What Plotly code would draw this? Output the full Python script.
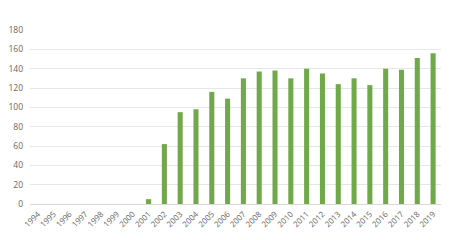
import plotly.graph_objects as go

years = [str(y) for y in range(1994, 2020)]
values = [0, 0, 0, 0, 0, 0, 0, 5, 62, 95, 98, 116, 109, 130, 137, 138, 130,
          140, 135, 124, 130, 123, 140, 139, 151, 156]
y_ticks = [0, 20, 40, 60, 80, 100, 120, 140, 160, 180]

fig = go.Figure(go.Bar(
    x=years, y=values,
    marker=dict(color="#70a94a", line=dict(width=0)),
))

fig.update_layout(
    width=450, height=240,
    margin=dict(l=30, r=9, t=30, b=36),
    paper_bgcolor="white", plot_bgcolor="white",
    bargap=0.68,
    showlegend=False,
    font=dict(family="Open Sans", size=8, color="#666666"),
    xaxis=dict(type="category", tickangle=-45, showgrid=False, ticks="",
               tickfont=dict(size=8), showline=False, ticklabelstandoff=3),
    yaxis=dict(range=[0, 180], tickvals=y_ticks, showgrid=True,
               gridcolor="#e6e6e6", gridwidth=1, zeroline=True,
               zerolinecolor="#d9d9d9", zerolinewidth=1, ticks="",
               ticklabelstandoff=6, tickfont=dict(size=8.5)),
)

fig.write_html("out.html")
